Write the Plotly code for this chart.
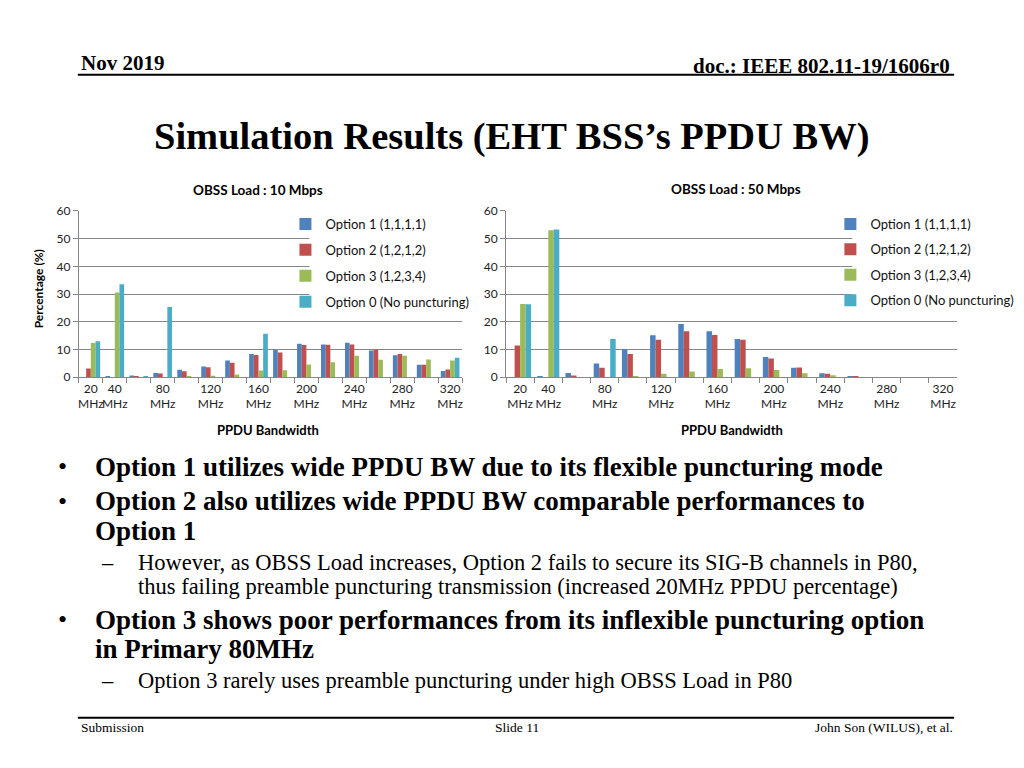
import plotly.graph_objects as go

# ---------------- data ----------------
bandwidth_cats = ["20", "40", "60", "80", "100", "120", "140", "160",
                  "180", "200", "220", "240", "260", "280", "300", "320"]
tick_labels = ["20<br>MHz", "40<br>MHz", "", "80<br>MHz", "", "120<br>MHz", "",
               "160<br>MHz", "", "200<br>MHz", "", "240<br>MHz", "", "280<br>MHz",
               "", "320<br>MHz"]
series_names = ["Option 1 (1,1,1,1)", "Option 2 (1,2,1,2)",
                "Option 3 (1,2,3,4)", "Option 0 (No puncturing)"]

load10_opt1 = [0.0, 0.2, 0.6, 1.5, 2.7, 3.8, 6.0, 8.4, 9.9, 12.1, 11.8, 12.4, 9.6, 7.9, 4.5, 2.2]
load10_opt2 = [3.1, 0.0, 0.3, 1.3, 2.1, 3.6, 5.2, 8.0, 8.9, 11.6, 11.7, 11.8, 9.9, 8.4, 4.5, 2.8]
load10_opt3 = [12.3, 30.6, 0.0, 0.0, 0.2, 0.5, 1.0, 2.4, 2.5, 4.6, 5.4, 7.7, 6.3, 7.7, 6.4, 6.0]
load10_opt0 = [13.0, 33.5, 0.2, 25.3, 0.0, 0.0, 0.0, 15.7, 0.0, 0.0, 0.0, 0.0, 0.0, 0.0, 0.0, 7.0]

load50_opt1 = [0.0, 0.1, 1.5, 4.9, 10.2, 15.1, 19.2, 16.6, 13.8, 7.3, 3.4, 1.4, 0.2, 0.0, 0.0, 0.0]
load50_opt2 = [11.4, 0.0, 0.6, 3.4, 8.4, 13.5, 16.6, 15.2, 13.5, 6.7, 3.5, 1.2, 0.1, 0.0, 0.0, 0.0]
load50_opt3 = [26.4, 53.0, 0.0, 0.0, 0.1, 1.2, 2.0, 2.9, 3.2, 2.6, 1.4, 0.7, 0.0, 0.0, 0.0, 0.0]
load50_opt0 = [26.3, 53.3, 0.0, 13.8, 0.0, 0.0, 0.0, 0.0, 0.0, 0.0, 0.0, 0.0, 0.0, 0.0, 0.0, 0.0]

colors = ["#4F81BD", "#C0504D", "#9BBB59", "#4BACC6"]

W, H = 1024, 768
def px(x):
    return x / W
def py(y):
    return 1 - y / H

CHART_FONT = "Lato, Open Sans, sans-serif"
SERIF = "Liberation Serif, Times New Roman, serif"

fig = go.Figure()

left_sets = [load10_opt1, load10_opt2, load10_opt3, load10_opt0]
right_sets = [load50_opt1, load50_opt2, load50_opt3, load50_opt0]

for i, vals in enumerate(left_sets):
    fig.add_trace(go.Bar(x=bandwidth_cats, y=vals, name=series_names[i],
                         marker=dict(color=colors[i], line=dict(width=0)),
                         xaxis="x", yaxis="y", legend="legend",
                         legendgroup="L%d" % i))
for i, vals in enumerate(right_sets):
    fig.add_trace(go.Bar(x=bandwidth_cats, y=vals, name=series_names[i],
                         marker=dict(color=colors[i], line=dict(width=0)),
                         xaxis="x2", yaxis="y2", legend="legend2",
                         legendgroup="R%d" % i))

axis_gray = "#868686"
xcommon = dict(type="category", tickmode="array", tickvals=bandwidth_cats,
               ticktext=tick_labels, tickangle=0, showline=True,
               linecolor=axis_gray, linewidth=1, ticks="outside",
               tickson="boundaries", ticklen=5, tickcolor=axis_gray,
               showgrid=False, tickfont=dict(family=CHART_FONT, size=12, color="#222"),
               fixedrange=True)
ycommon = dict(range=[0, 60], dtick=10, showline=True, linecolor=axis_gray,
               linewidth=1, ticks="outside", ticklen=5, tickcolor=axis_gray,
               showgrid=True, gridcolor=axis_gray, gridwidth=1, zeroline=False,
               tickfont=dict(family=CHART_FONT, size=12, color="#222"),
               fixedrange=True)

fig.update_layout(
    width=W, height=H,
    margin=dict(l=0, r=0, t=0, b=0),
    paper_bgcolor="white", plot_bgcolor="white",
    barmode="group", bargap=0.22, bargroupgap=0.0,
    xaxis=dict(domain=[px(78), px(462)], anchor="y", **xcommon),
    yaxis=dict(domain=[py(376.5), py(207)], anchor="x", **ycommon),
    xaxis2=dict(domain=[px(506), px(958)], anchor="y2", **xcommon),
    yaxis2=dict(domain=[py(376.5), py(207)], anchor="x2", **ycommon),
    legend=dict(x=px(285), y=py(205), xanchor="left", yanchor="top",
                bgcolor="rgba(0,0,0,0)", borderwidth=0, tracegroupgap=6,
                traceorder="grouped",
                font=dict(family=CHART_FONT, size=13, color="#111")),
    legend2=dict(x=px(831), y=py(205), xanchor="left", yanchor="top",
                 bgcolor="rgba(0,0,0,0)", borderwidth=0, tracegroupgap=5.5,
                 traceorder="grouped",
                 font=dict(family=CHART_FONT, size=13, color="#111")),
    showlegend=True,
)

# white backing behind the legends (cuts the gridlines like the original)
fig.add_shape(type="rect", xref="paper", yref="paper", layer="above",
              x0=px(309), x1=px(472), y0=py(311), y1=py(211),
              fillcolor="white", line=dict(width=0))
fig.add_shape(type="rect", xref="paper", yref="paper", layer="above",
              x0=px(853), x1=px(1022), y0=py(310), y1=py(211),
              fillcolor="white", line=dict(width=0))

# header / footer rules
fig.add_shape(type="line", xref="paper", yref="paper", x0=px(77), x1=px(955),
              y0=py(68), y1=py(68), line=dict(color="black", width=2))
fig.add_shape(type="line", xref="paper", yref="paper", x0=px(77), x1=px(955),
              y0=py(724), y1=py(724), line=dict(color="black", width=2))

ann = []
def text(x, y, s, size, family=SERIF, xanchor="left", bold=False, angle=0, color="black"):
    ann.append(dict(x=px(x), y=py(y), xref="paper", yref="paper", text=("<b>%s</b>" % s) if bold else s,
                    showarrow=False, xanchor=xanchor, yanchor="middle", textangle=angle,
                    font=dict(family=family, size=size, color=color)))

# header
text(78, 56, "Nov 2019", 21, bold=True)
text(953, 59, "doc.: IEEE 802.11-19/1606r0", 21, bold=True, xanchor="right")
# title
text(512, 131, "Simulation Results (EHT BSS’s PPDU BW)", 38.5, bold=True, xanchor="center")

# chart labels
text(258, 186, "OBSS Load : 10 Mbps", 13.5, family=CHART_FONT, bold=True, xanchor="center")
text(736, 185, "OBSS Load : 50 Mbps", 13.5, family=CHART_FONT, bold=True, xanchor="center")
text(268, 430, "PPDU Bandwidth", 13, family=CHART_FONT, bold=True, xanchor="center")
text(732, 430, "PPDU Bandwidth", 13, family=CHART_FONT, bold=True, xanchor="center")
text(37, 286, "Percentage (%)", 12, family=CHART_FONT, bold=True, xanchor="center", angle=-90)

# bullets
for yy in (468, 503, 624):
    text(55, yy, "•", 26)
text(92, 468, "Option 1 utilizes wide PPDU BW due to its flexible puncturing mode", 27, bold=True)
text(92, 503, "Option 2 also utilizes wide PPDU BW comparable performances to", 27, bold=True)
text(92, 533, "Option 1", 27, bold=True)
text(98, 566, "–", 22.5)
text(135, 566, "However, as OBSS Load increases, Option 2 fails to secure its SIG-B channels in P80,", 22.5)
text(135, 590, "thus failing preamble puncturing transmission (increased 20MHz PPDU percentage)", 22.5)
text(92, 624, "Option 3 shows poor performances from its inflexible puncturing option", 27, bold=True)
text(92, 654, "in Primary 80MHz", 27, bold=True)
text(98, 686, "–", 22.5)
text(135, 686, "Option 3 rarely uses preamble puncturing under high OBSS Load in P80", 22.5)

# footer
text(78, 734, "Submission", 13.5)
text(517, 734, "Slide 11", 13.5, xanchor="center")
text(956, 734, "John Son (WILUS), et al.", 13.5, xanchor="right")

fig.update_layout(annotations=ann)

fig.write_html("out.html", config={"displayModeBar": False},
               post_script="document.body.style.margin='0';document.body.style.overflow='hidden';")
